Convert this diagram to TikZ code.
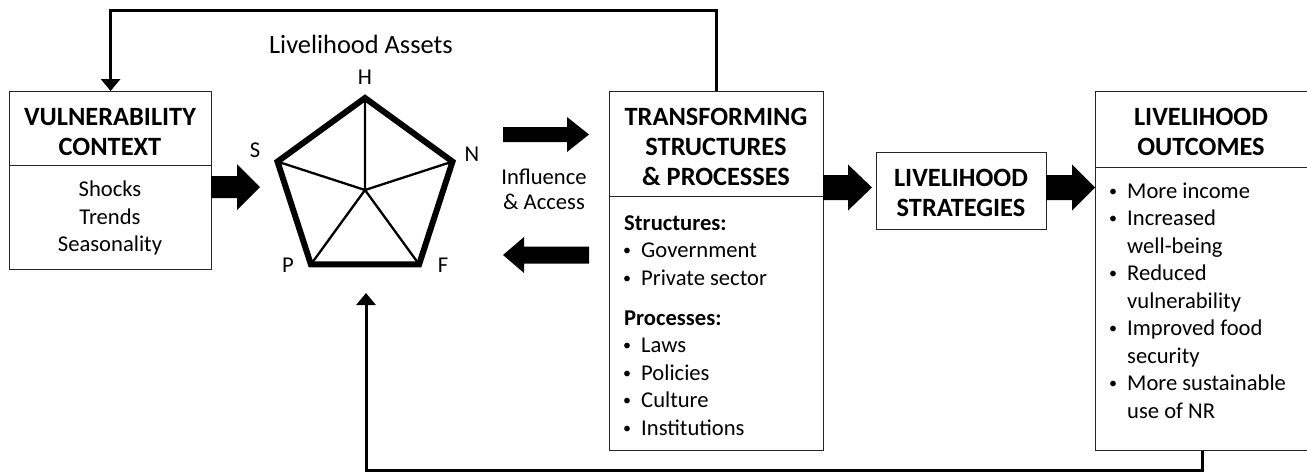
\documentclass[tikz,border=0pt]{standalone}
\usepackage{fontspec}
\setmainfont{Carlito}
\usetikzlibrary{arrows.meta}

% text sizes
\newcommand\bodysize{\fontsize{22.6}{27.5}\selectfont}
\newcommand\tightsize{\fontsize{22.6}{25}\selectfont}
\newcommand\titlesize{\fontsize{26.4}{30}\selectfont\bfseries}
% bullet item and continuation indent
\newcommand\bul{\makebox[20pt][l]{\hspace*{2pt}\raisebox{2pt}{\fontsize{16}{16}\selectfont\textbullet}}}
\newcommand\cont{\hspace*{20pt}}
% filled block arrow: start x, head base x, tip x, centre y, shaft half height, head half height
\newcommand\blockarrow[6]{%
  \fill (#1,#4-#5) -- (#2,#4-#5) -- (#2,#4-#6) -- (#3,#4) --
        (#2,#4+#6) -- (#2,#4+#5) -- (#1,#4+#5) -- cycle;}

\begin{document}
\begin{tikzpicture}[x=1pt,y=-1pt,
  box/.style={draw=black!85, line width=1.2pt, inner sep=0pt, anchor=north west},
  title/.style={font=\titlesize, align=center, inner sep=0pt},
  body/.style={font=\bodysize, align=center, inner sep=0pt},
  list/.style={font=\bodysize, align=left, inner sep=0pt, anchor=north west},
  corner/.style={font=\bodysize, inner sep=0pt},
  fb/.style={line width=3pt, line join=miter, -{Triangle[width=19pt,length=12pt]}}]

\useasboundingbox (0,0) rectangle (1307,474);

% ---- vulnerability context
\node[box, minimum width=202pt, minimum height=74pt] (vTitle) at (9,91) {};
\node[box, minimum width=202pt, minimum height=104pt] (vBody) at (9,165) {};
\node[title] (vTitleText) at (110,132) {VULNERABILITY\\CONTEXT};
\node[body] (vBodyText) at (110,218) {Shocks\\Trends\\Seasonality};

% ---- livelihood assets pentagon
\coordinate (pC) at (365,190);
\coordinate (pH) at (365,98);
\coordinate (pN) at (452.5,161.6);
\coordinate (pF) at (419.1,264.4);
\coordinate (pP) at (310.9,264.4);
\coordinate (pS) at (277.5,161.6);
\draw[line width=2.3pt] (pC) -- (pH) (pC) -- (pN) (pC) -- (pF) (pC) -- (pP) (pC) -- (pS);
\draw[line width=6pt, line join=miter] (pH) -- (pN) -- (pF) -- (pP) -- (pS) -- cycle;
\node[font=\fontsize{26.4}{30}\selectfont, inner sep=0pt] (assetsLabel) at (361,44) {Livelihood Assets};
\node[corner] (lH) at (365,77) {H};
\node[corner] (lN) at (472,154) {N};
\node[corner] (lF) at (443,265) {F};
\node[corner] (lP) at (288,265) {P};
\node[corner] (lS) at (255,150) {S};
\coordinate (assetsIn) at (366,293);

% ---- transforming structures and processes
\node[box, minimum width=214pt, minimum height=105pt] (tTitle) at (609,91) {};
\node[box, minimum width=214pt, minimum height=254pt] (tBody) at (609,196) {};
\node[title] (tTitleText) at (716,147) {TRANSFORMING\\STRUCTURES\\\& PROCESSES};
\node[list] (tBodyText) at (621,215.4) {%
  \hspace*{3pt}\textbf{Structures:}\\
  \bul Government\\
  \bul Private sector\\[12.5pt]
  \hspace*{3pt}\textbf{Processes:}\\
  \bul Laws\\
  \bul Policies\\
  \bul Culture\\
  \bul Institutions};
\node[body, font=\tightsize] (influence) at (544,189) {Influence\\\& Access};

% ---- livelihood strategies
\node[box, minimum width=170pt, minimum height=77pt] (strat) at (876,152) {};
\node[title] (stratText) at (961,193) {LIVELIHOOD\\STRATEGIES};

% ---- livelihood outcomes
\node[box, minimum width=214pt, minimum height=76pt] (oTitle) at (1095,91) {};
\node[box, minimum width=214pt, minimum height=283pt] (oBody) at (1095,167) {};
\node[title] (oTitleText) at (1201,132) {LIVELIHOOD\\OUTCOMES};
\node[list] (oBodyText) at (1107,182.7) {%
  \bul More income\\
  \bul Increased\\
  \cont well-being\\
  \bul Reduced\\
  \cont vulnerability\\
  \bul Improved food\\
  \cont security\\
  \bul More sustainable\\
  \cont use of NR};

% ---- block arrows
\blockarrow{211}{237}{260}{187}{11}{23}
\blockarrow{503}{567}{589}{134.5}{7.5}{17.5}
\blockarrow{589}{524}{503}{255}{8.5}{18}
\blockarrow{823}{848}{872}{187.5}{12.5}{23}
\blockarrow{1046}{1072}{1095}{187.5}{12.5}{23}

% ---- feedback loops
\coordinate (topY) at (0,10);
\coordinate (botY) at (0,470);
\draw[fb] (tTitle.north) |- (vTitle.north |- topY) -- (vTitle.north);
\draw[fb] (oBody.south) |- (assetsIn |- botY) -- (assetsIn);
\end{tikzpicture}
\end{document}
